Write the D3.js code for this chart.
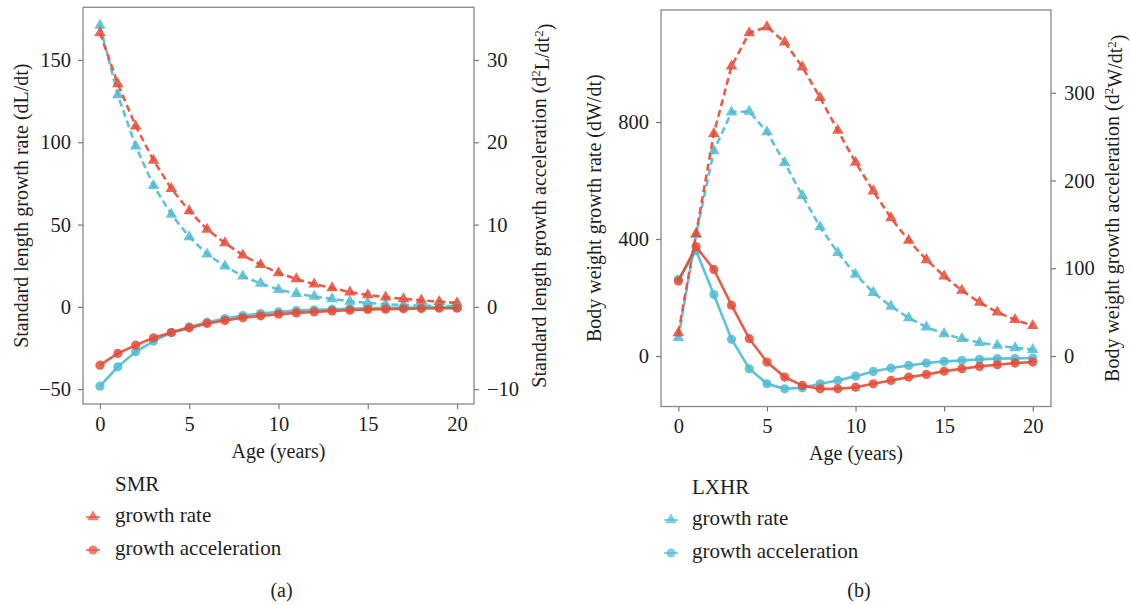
<!DOCTYPE html>
<html>
<head>
<meta charset="utf-8">
<script src="https://cdn.jsdelivr.net/npm/d3@7"></script>
<style>
  body { margin: 0; background: #fff; }
  svg text { font-family: "Liberation Serif", "Times New Roman", Times, "DejaVu Serif", serif !important; fill: #1e1e1e; }
</style>
</head>
<body>
<svg id="chart" width="1130" height="605" font-family="Liberation Serif, Times New Roman, serif"></svg>
<script>
// ages 0..20
var ages = [0,1,2,3,4,5,6,7,8,9,10,11,12,13,14,15,16,17,18,19,20];

// (a) standard length: growth rate (dL/dt) and acceleration (d2L/dt2)
var smrRateL = [166.5,135.5,109.8,89,71.8,58.3,47.1,38.8,31.4,25.7,20.6,17,13.8,11.5,8.9,7.3,5.9,4.9,4,3.2,2.4];
var lxhrRateL = [171,128.8,97.7,73.6,56.2,42.5,32,24.7,18.6,14.2,10.5,8.1,6.3,4.9,3.4,2.4,1.6,1.2,0.8,0.6,0.4];
var smrAccL = [-7.08,-5.66,-4.65,-3.76,-3.11,-2.55,-2.02,-1.66,-1.33,-1.09,-0.89,-0.73,-0.61,-0.49,-0.4,-0.32,-0.28,-0.24,-0.2,-0.16,-0.16];
var lxhrAccL = [-9.63,-7.28,-5.46,-4.17,-3.11,-2.43,-1.86,-1.42,-1.05,-0.81,-0.61,-0.45,-0.36,-0.28,-0.2,-0.16,-0.12,-0.08,-0.08,-0.04,-0.04];

// (b) body weight: growth rate (dW/dt) and acceleration (d2W/dt2)
var smrRateW = [78.6,418,760,991,1105,1125,1073,988,883,771,662,564,472,395,329,273,224,183,150,124,104];
var lxhrRateW = [62.7,415,701,834,836,766,661,548,441,353,279,217,170,130,99,76,59,46,36,28,22];
var smrAccW = [85.4,124.7,98.7,58,19.8,-6.9,-24,-33.5,-37.4,-37.4,-35.5,-31.6,-27.8,-24,-21,-17.2,-14.5,-11.8,-9.9,-8,-6.9];
var lxhrAccW = [87.3,120,70.1,19.1,-14.5,-31.6,-37.4,-36.2,-31.6,-27.8,-22.9,-17.5,-13.7,-10.7,-8,-6.1,-5,-3.8,-3,-2.7,-2.3];

var xTicks = [0,5,10,15,20];
var red = '#E64B35', blue = '#4DBBD5';
var serif = '"Liberation Serif", "Times New Roman", Times, serif';

var panels = [
  {
    left: 83, right: 474, top: 7.3, bottom: 404,
    xDom: [-0.95, 20.95], yDom: [-59, 182], y2Dom: [-11.8, 36.4],
    yTicks: [-50,0,50,100,150], y2Ticks: [-10,0,10,20,30],
    rate: [lxhrRateL, smrRateL], acc: [lxhrAccL, smrAccL],
    yTitle: 'Standard length growth rate (dL/dt)',
    y2Pre: 'Standard length growth acceleration (d', y2Mid: 'L/dt',
    yTitleX: 21, y2TitleX: 539, xTitleY: 458,
    legTitle: 'SMR', legColor: red, legKeyX: 93, legTextX: 115, legDy: 0, label: '(a)'
  },
  {
    left: 661, right: 1051, top: 10, bottom: 406.5,
    xDom: [-0.98, 21.03], yDom: [-172.6, 1183], y2Dom: [-57.5, 394.3],
    yTicks: [0,400,800], y2Ticks: [0,100,200,300],
    rate: [lxhrRateW, smrRateW], acc: [lxhrAccW, smrAccW],
    yTitle: 'Body weight growth rate (dW/dt)',
    y2Pre: 'Body weight growth acceleration (d', y2Mid: 'W/dt',
    yTitleX: 594, y2TitleX: 1112, xTitleY: 460,
    legTitle: 'LXHR', legColor: blue, legKeyX: 671, legTextX: 692, legDy: 3, label: '(b)'
  }
];

var svg = d3.select('#chart');
var tri = d3.symbol().type(d3.symbolTriangle).size(58);
var cols = [blue, red];

panels.forEach(function(p) {
  var x = d3.scaleLinear().domain(p.xDom).range([p.left, p.right]);
  var y = d3.scaleLinear().domain(p.yDom).range([p.bottom, p.top]);
  var y2 = d3.scaleLinear().domain(p.y2Dom).range([p.bottom, p.top]);
  var g = svg.append('g');

  // axes
  var ax = g.append('g').attr('transform', 'translate(0,' + p.bottom + ')')
    .call(d3.axisBottom(x).tickValues(xTicks).tickSize(5).tickPadding(7));
  var ay = g.append('g').attr('transform', 'translate(' + p.left + ',0)')
    .call(d3.axisLeft(y).tickValues(p.yTicks).tickSize(5).tickPadding(7));
  var ay2 = g.append('g').attr('transform', 'translate(' + p.right + ',0)')
    .call(d3.axisRight(y2).tickValues(p.y2Ticks).tickSize(5).tickPadding(8));
  [ax, ay, ay2].forEach(function(a) {
    a.attr('font-family', serif);
    a.select('.domain').remove();
    a.selectAll('line').attr('stroke', '#777').attr('stroke-width', 1.2);
    a.selectAll('text').style('font-size', '20.5px').attr('fill', '#1e1e1e');
  });

  g.append('rect')
    .attr('x', p.left).attr('y', p.top)
    .attr('width', p.right - p.left).attr('height', p.bottom - p.top)
    .attr('fill', 'none').attr('stroke', '#888').attr('stroke-width', 1.3);

  var lineR = d3.line().x(function(d, i) { return x(ages[i]); }).y(function(d) { return y(d); });
  var lineA = d3.line().x(function(d, i) { return x(ages[i]); }).y(function(d) { return y2(d); });

  // growth rate, dashed with triangles
  p.rate.forEach(function(s, k) {
    g.append('path').datum(s).attr('d', lineR)
      .attr('fill', 'none').attr('stroke', cols[k]).attr('stroke-width', 2.6)
      .attr('stroke-dasharray', '7,4').attr('opacity', 0.9);
    g.append('g').selectAll('path').data(s).enter().append('path')
      .attr('d', tri)
      .attr('transform', function(d, i) { return 'translate(' + x(ages[i]) + ',' + y(d) + ')'; })
      .attr('fill', cols[k]).attr('opacity', 0.85);
  });

  // growth acceleration, solid with circles
  p.acc.forEach(function(s, k) {
    g.append('path').datum(s).attr('d', lineA)
      .attr('fill', 'none').attr('stroke', cols[k]).attr('stroke-width', 2.6).attr('opacity', 0.9);
    g.append('g').selectAll('circle').data(s).enter().append('circle')
      .attr('cx', function(d, i) { return x(ages[i]); })
      .attr('cy', function(d) { return y2(d); })
      .attr('r', 4.6).attr('fill', cols[k]).attr('opacity', 0.85);
  });

  // titles
  var midY = (p.top + p.bottom) / 2;
  g.append('text').attr('x', (p.left + p.right) / 2).attr('y', p.xTitleY)
    .attr('text-anchor', 'middle').style('font-size', '20px').text('Age (years)');
  g.append('text')
    .attr('transform', 'translate(' + p.yTitleX + ',' + midY + ') rotate(-90)')
    .attr('text-anchor', 'middle').attr('dy', '0.35em').style('font-size', '20px')
    .text(p.yTitle);
  var t2 = g.append('text')
    .attr('transform', 'translate(' + p.y2TitleX + ',' + midY + ') rotate(-90)')
    .attr('text-anchor', 'middle').attr('dy', '0.35em').style('font-size', '20px');
  t2.append('tspan').text(p.y2Pre);
  t2.append('tspan').attr('dy', '-0.45em').style('font-size', '13px').text('2');
  t2.append('tspan').attr('dy', '0.45em').text(p.y2Mid);
  t2.append('tspan').attr('dy', '-0.45em').style('font-size', '13px').text('2');
  t2.append('tspan').attr('dy', '0.45em').text(')');

  // legend
  var ly = p.legDy;
  g.append('text').attr('x', p.legTextX).attr('y', 491 + ly)
    .style('font-size', '21px').text(p.legTitle);
  var items = [{name: 'growth rate', yy: 517}, {name: 'growth acceleration', yy: 550}];
  items.forEach(function(it, k) {
    var cy = it.yy + ly;
    g.append('line').attr('x1', p.legKeyX - 7).attr('x2', p.legKeyX + 7)
      .attr('y1', cy).attr('y2', cy)
      .attr('stroke', p.legColor).attr('stroke-width', 2).attr('opacity', 0.65);
    if (k === 0) {
      g.append('path').attr('d', tri).attr('transform', 'translate(' + p.legKeyX + ',' + cy + ')')
        .attr('fill', p.legColor).attr('opacity', 0.7);
    } else {
      g.append('circle').attr('cx', p.legKeyX).attr('cy', cy).attr('r', 4.6)
        .attr('fill', p.legColor).attr('opacity', 0.7);
    }
    g.append('text').attr('x', p.legTextX).attr('y', cy + 5)
      .style('font-size', '21px').text(it.name);
  });

  g.append('text').attr('x', (p.left + p.right) / 2 + 3).attr('y', 597)
    .attr('text-anchor', 'middle').style('font-size', '20px').text(p.label);
});
</script>
</body>
</html>
